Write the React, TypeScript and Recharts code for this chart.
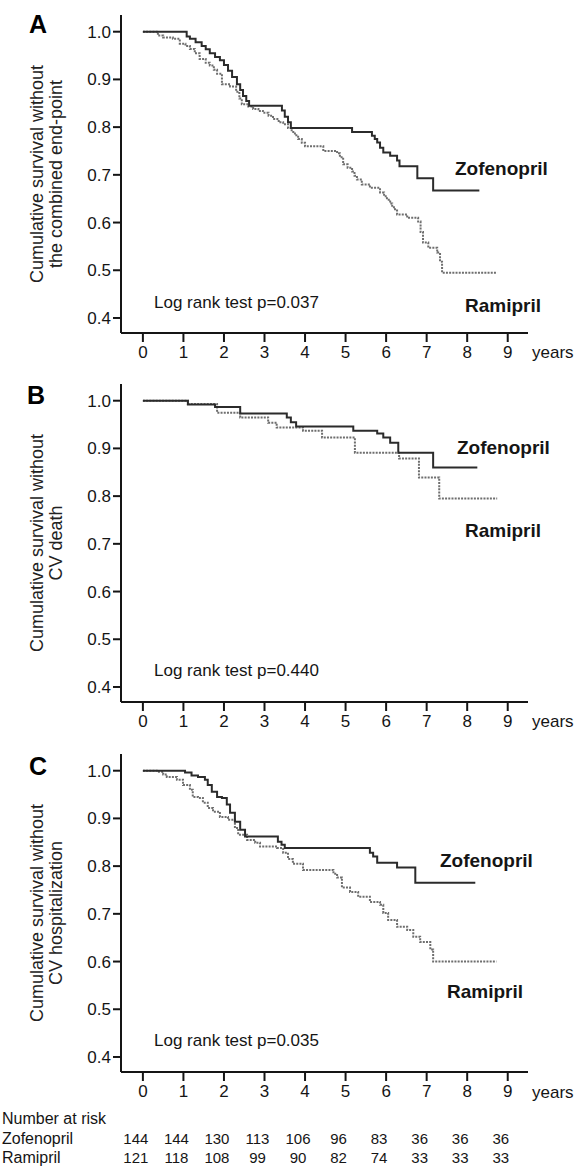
import React from 'react';
import { LineChart, Line, XAxis, YAxis } from 'recharts';

// ---------- data ----------
const years = [0, 1, 2, 3, 4, 5, 6, 7, 8, 9];
const yTicks = [0.4, 0.5, 0.6, 0.7, 0.8, 0.9, 1.0];
const atRiskZof = [144, 144, 130, 113, 106, 96, 83, 36, 36, 36];
const atRiskRam = [121, 118, 108, 99, 90, 82, 74, 33, 33, 33];

// Panel A: combined end-point
const aZofT = [0, 1.08, 1.16, 1.3, 1.45, 1.55, 1.65, 1.78, 1.9, 2.0, 2.1, 2.2, 2.32, 2.4, 2.47, 2.55, 2.62, 3.43, 3.5, 3.58, 3.65, 5.16, 5.65, 5.72, 5.78, 5.85, 5.93, 6.1, 6.27, 6.33, 6.77, 7.16, 8.3];
const aZofS = [1.0, 0.99, 0.985, 0.978, 0.97, 0.963, 0.955, 0.947, 0.94, 0.93, 0.918, 0.905, 0.89, 0.878, 0.865, 0.855, 0.845, 0.835, 0.822, 0.81, 0.798, 0.79, 0.782, 0.775, 0.768, 0.757, 0.747, 0.74, 0.73, 0.718, 0.693, 0.667, 0.667];
const aRamT = [0, 0.37, 0.5, 0.74, 0.91, 1.05, 1.16, 1.28, 1.4, 1.55, 1.65, 1.75, 1.83, 1.95, 2.15, 2.3, 2.38, 2.44, 2.6, 2.72, 2.85, 2.96, 3.1, 3.21, 3.35, 3.46, 3.58, 3.67, 3.75, 3.83, 3.92, 4.0, 4.45, 4.79, 4.86, 4.94, 5.05, 5.16, 5.22, 5.28, 5.4, 5.6, 5.85, 5.95, 6.02, 6.1, 6.15, 6.22, 6.27, 6.52, 6.79, 6.85, 6.91, 7.04, 7.26, 7.33, 7.38, 8.74];
const aRamS = [1.0, 0.992, 0.988, 0.985, 0.975, 0.97, 0.964, 0.955, 0.943, 0.935, 0.929, 0.92, 0.912, 0.89, 0.885, 0.874, 0.86, 0.848, 0.843, 0.838, 0.834, 0.83, 0.824, 0.817, 0.81, 0.806, 0.798, 0.79, 0.783, 0.775, 0.767, 0.76, 0.75, 0.745, 0.737, 0.722, 0.715, 0.707, 0.698, 0.69, 0.68, 0.673, 0.663, 0.655, 0.648, 0.64, 0.632, 0.625, 0.617, 0.61, 0.602, 0.58, 0.558, 0.547, 0.537, 0.518, 0.495, 0.495];

// Panel B: CV death
const bZofT = [0, 1.11, 1.78, 2.4, 3.55, 3.65, 3.78, 5.19, 5.78, 5.93, 6.1, 6.3, 7.16, 8.25];
const bZofS = [1.0, 0.992, 0.987, 0.973, 0.965, 0.955, 0.946, 0.937, 0.931, 0.923, 0.912, 0.891, 0.86, 0.86];
const bRamT = [0, 1.11, 1.83, 2.4, 3.09, 3.3, 3.95, 4.42, 5.23, 6.32, 6.81, 7.31, 8.74];
const bRamS = [1.0, 0.993, 0.975, 0.965, 0.954, 0.944, 0.937, 0.923, 0.891, 0.879, 0.839, 0.795, 0.795];

// Panel C: CV hospitalization
const cZofT = [0, 1.04, 1.2, 1.36, 1.53, 1.6, 1.7, 1.83, 1.95, 2.07, 2.15, 2.27, 2.4, 2.52, 3.33, 3.42, 3.5, 5.6, 5.68, 5.78, 6.27, 6.72, 8.2];
const cZofS = [1.0, 0.996, 0.99, 0.987, 0.981, 0.97, 0.956, 0.945, 0.943, 0.929, 0.912, 0.893, 0.876, 0.862, 0.851, 0.845, 0.838, 0.828, 0.82, 0.807, 0.797, 0.765, 0.765];
const cRamT = [0, 0.37, 0.5, 0.59, 0.84, 0.99, 1.16, 1.23, 1.36, 1.48, 1.6, 1.73, 1.9, 2.1, 2.27, 2.35, 2.57, 2.77, 2.89, 3.31, 3.46, 3.58, 3.7, 3.95, 4.7, 4.79, 4.91, 5.11, 5.31, 5.6, 5.85, 5.93, 6.05, 6.27, 6.52, 6.67, 6.84, 7.09, 7.16, 8.72];
const cRamS = [1.0, 0.998, 0.992, 0.987, 0.981, 0.97, 0.96, 0.945, 0.943, 0.933, 0.922, 0.914, 0.903, 0.897, 0.88, 0.866, 0.855, 0.849, 0.841, 0.838, 0.828, 0.815, 0.805, 0.792, 0.784, 0.776, 0.755, 0.746, 0.736, 0.725, 0.719, 0.702, 0.687, 0.673, 0.666, 0.652, 0.641, 0.625, 0.6, 0.6];

const toPts = (t: number[], s: number[]) => t.map((x, i) => ({ t: x, s: s[i] }));

const FONT = '"Liberation Sans", Arial, Helvetica, sans-serif';
const NARROW = '"Liberation Sans Narrow", "Liberation Sans", Arial, sans-serif';
const INK = '#151515';

const XTick = (props: any) => {
  const { x, y, payload, index, showRisk } = props;
  return (
    <g>
      <text x={x} y={y + 16} textAnchor="middle" fontFamily={FONT} fontSize={17} fill={INK}>
        {payload.value}
      </text>
      {showRisk && (
        <>
          <text x={x - 7} y={y + 63} textAnchor="middle" fontFamily={NARROW} fontSize={15} fill={INK}>
            {atRiskZof[index]}
          </text>
          <text x={x - 7} y={y + 82} textAnchor="middle" fontFamily={NARROW} fontSize={15} fill={INK}>
            {atRiskRam[index]}
          </text>
        </>
      )}
    </g>
  );
};

type PanelProps = {
  top: number;
  height: number;
  xAxisHeight: number;
  zof: { t: number; s: number }[];
  ram: { t: number; s: number }[];
  showRisk?: boolean;
};

const Panel = ({ top, height, xAxisHeight, zof, ram, showRisk }: PanelProps) => (
  <div style={{ position: 'absolute', left: 0, top, width: 577, height }}>
    <LineChart width={577} height={height} margin={{ top: 15, right: 49, bottom: 0, left: 0 }}>
      <XAxis
        type="number"
        dataKey="t"
        domain={[-0.54, 9.5]}
        allowDataOverflow
        ticks={years}
        interval={0}
        height={xAxisHeight}
        tickSize={9}
        tickMargin={0}
        axisLine={{ stroke: INK, strokeWidth: 2 }}
        tickLine={{ stroke: INK, strokeWidth: 2 }}
        tick={(p: any) => <XTick {...p} showRisk={showRisk} />}
      />
      <YAxis
        type="number"
        dataKey="s"
        domain={[0.3685, 1.035]}
        allowDataOverflow
        ticks={yTicks}
        interval={0}
        width={121}
        tickSize={8}
        tickMargin={2}
        tickFormatter={(v: number) => v.toFixed(1)}
        axisLine={{ stroke: INK, strokeWidth: 2 }}
        tickLine={{ stroke: INK, strokeWidth: 2 }}
        tick={{ fontFamily: FONT, fontSize: 17, fill: INK }}
      />
      <Line
        data={ram}
        dataKey="s"
        type="stepAfter"
        stroke="#6e6e6e"
        strokeWidth={2}
        strokeDasharray="2 1.2"
        dot={false}
        activeDot={false}
        isAnimationActive={false}
      />
      <Line
        data={zof}
        dataKey="s"
        type="stepAfter"
        stroke="#2b2b2b"
        strokeWidth={2}
        dot={false}
        activeDot={false}
        isAnimationActive={false}
      />
    </LineChart>
  </div>
);

const YLabel = ({ cy, l1, l2 }: { cy: number; l1: string; l2: string }) => (
  <g transform="rotate(-90)" fontFamily={FONT} fontSize={18} fill="#222" textAnchor="middle">
    <text x={-cy} y={43}>{l1}</text>
    <text x={-cy} y={62}>{l2}</text>
  </g>
);

export default function App() {
  return (
    <div
      style={{
        position: 'absolute',
        left: 0,
        top: 0,
        width: 577,
        height: 1169,
        background: '#fff',
        overflow: 'hidden',
      }}
    >
      <Panel top={0} height={370} xAxisHeight={37} zof={toPts(aZofT, aZofS)} ram={toPts(aRamT, aRamS)} />
      <Panel top={369} height={370} xAxisHeight={37} zof={toPts(bZofT, bZofS)} ram={toPts(bRamT, bRamS)} />
      <Panel top={739} height={430} xAxisHeight={97} zof={toPts(cZofT, cZofS)} ram={toPts(cRamT, cRamS)} showRisk />
      <svg
        width={577}
        height={1169}
        style={{ position: 'absolute', left: 0, top: 0, pointerEvents: 'none' }}
      >
        {/* panel letters */}
        <g fontFamily={FONT} fontSize={25} fontWeight="bold" fill="#000">
          <text x={29} y={33}>A</text>
          <text x={27} y={404}>B</text>
          <text x={29} y={775}>C</text>
        </g>
        <YLabel cy={174} l1="Cumulative survival without" l2="the combined end-point" />
        <YLabel cy={543} l1="Cumulative survival without" l2="CV death" />
        <YLabel cy={913} l1="Cumulative survival without" l2="CV hospitalization" />
        {/* series labels */}
        <g fontFamily={FONT} fontSize={19} fontWeight="bold" fill={INK}>
          <text x={455} y={175}>Zofenopril</text>
          <text x={465} y={312}>Ramipril</text>
          <text x={457} y={454}>Zofenopril</text>
          <text x={465} y={537}>Ramipril</text>
          <text x={440} y={867}>Zofenopril</text>
          <text x={447} y={998}>Ramipril</text>
        </g>
        <g fontFamily={FONT} fontSize={17} fill={INK}>
          <text x={154} y={308}>Log rank test p=0.037</text>
          <text x={154} y={676}>Log rank test p=0.440</text>
          <text x={154} y={1046}>Log rank test p=0.035</text>
          <text x={532} y={358}>years</text>
          <text x={532} y={727}>years</text>
          <text x={532} y={1098}>years</text>
        </g>
        <g fontFamily={NARROW} fontSize={16} fill={INK}>
          <text x={2} y={1124}>Number at risk</text>
          <text x={2} y={1144}>Zofenopril</text>
          <text x={2} y={1163}>Ramipril</text>
        </g>
      </svg>
    </div>
  );
}
